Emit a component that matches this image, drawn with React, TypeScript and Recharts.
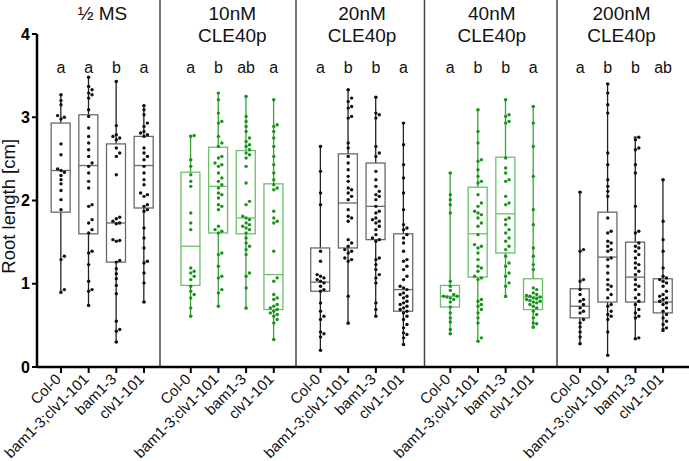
import { ComposedChart, Bar, Scatter, XAxis, YAxis, ReferenceLine, ReferenceDot } from "recharts"

const treatments = [["½ MS"], ["10nM", "CLE40p"], ["20nM", "CLE40p"], ["40nM", "CLE40p"], ["200nM", "CLE40p"]]
const greenTreatment = [false, true, false, true, false]
const genotypes = ["Col-0", "bam1-3;clv1-101", "bam1-3", "clv1-101"]

const letters = [
  ["a", "a", "b", "a"],
  ["a", "b", "ab", "a"],
  ["a", "b", "b", "a"],
  ["a", "b", "b", "a"],
  ["a", "b", "b", "ab"],
]

// box plot statistics [treatment][genotype]
const mins = [
  [0.89, 0.74, 0.3, 0.78],
  [0.61, 0.73, 0.7, 0.33],
  [0.2, 0.52, 0.61, 0.27],
  [0.4, 0.31, 0.84, 0.47],
  [0.28, 0.14, 0.34, 0.43],
]
const q1s = [
  [1.86, 1.6, 1.26, 1.91],
  [0.98, 1.61, 1.6, 0.69],
  [0.91, 1.43, 1.53, 0.67],
  [0.72, 1.08, 1.37, 0.69],
  [0.59, 0.78, 0.78, 0.65],
]
const medians = [
  [2.36, 2.42, 1.73, 2.42],
  [1.45, 2.17, 1.79, 1.11],
  [1.02, 1.97, 1.93, 0.93],
  [0.85, 1.6, 1.84, 0.84],
  [0.73, 1.32, 1.08, 0.78],
]
const q3s = [
  [2.93, 3.03, 2.68, 2.77],
  [2.34, 2.64, 2.6, 2.2],
  [1.43, 2.56, 2.45, 1.6],
  [0.98, 2.16, 2.52, 1.06],
  [0.94, 1.86, 1.5, 1.06],
]
const maxs = [
  [3.27, 3.48, 3.43, 3.14],
  [2.78, 3.29, 3.25, 3.21],
  [2.65, 3.33, 3.24, 2.93],
  [2.33, 3.09, 3.21, 3.13],
  [2.1, 3.4, 2.76, 2.25],
]

// individual roots [treatment][genotype]
const roots = [
  [
    [3.27, 3.2, 3.15, 3.02, 3.0, 2.98, 2.68, 2.55, 2.38, 2.36, 2.34, 2.3, 2.25, 2.2, 2.12, 2.01, 1.89, 1.33, 1.29, 0.93, 0.9],
    [3.48, 3.37, 3.33, 3.29, 3.27, 3.23, 3.09, 3.01, 2.87, 2.77, 2.69, 2.61, 2.53, 2.45, 2.41, 2.33, 2.23, 2.15, 1.95, 1.93, 1.77, 1.73, 1.65, 1.61, 1.39, 1.37, 1.23, 1.03, 0.93, 0.91, 0.74],
    [3.43, 2.9, 2.79, 2.77, 2.75, 2.73, 2.63, 2.57, 2.53, 2.31, 1.8, 1.78, 1.75, 1.73, 1.72, 1.53, 1.52, 1.51, 1.28, 1.26, 1.18, 1.12, 1.06, 0.98, 0.88, 0.55, 0.45, 0.43, 0.3],
    [3.14, 3.09, 3.03, 2.93, 2.89, 2.83, 2.81, 2.79, 2.77, 2.63, 2.57, 2.53, 2.49, 2.41, 2.33, 2.25, 2.19, 2.09, 2.07, 2.05, 1.95, 1.93, 1.89, 1.87, 1.67, 1.55, 1.43, 1.27, 1.25, 1.13, 1.01, 0.78],
  ],
  [
    [2.78, 2.77, 2.49, 2.41, 2.31, 2.23, 2.17, 1.85, 1.73, 1.65, 1.19, 1.15, 1.13, 1.09, 1.05, 0.97, 0.91, 0.87, 0.83, 0.71, 0.61],
    [3.29, 3.21, 3.05, 2.95, 2.93, 2.77, 2.69, 2.65, 2.53, 2.51, 2.45, 2.43, 2.41, 2.33, 2.27, 2.23, 2.19, 2.15, 2.09, 2.07, 2.03, 1.95, 1.93, 1.89, 1.69, 1.65, 1.63, 1.61, 1.37, 1.35, 1.21, 1.09, 1.07, 0.93, 0.89, 0.73],
    [3.25, 3.01, 2.95, 2.89, 2.83, 2.75, 2.71, 2.67, 2.65, 2.61, 2.57, 2.55, 2.51, 2.41, 2.21, 1.99, 1.95, 1.81, 1.79, 1.77, 1.73, 1.71, 1.69, 1.67, 1.65, 1.61, 1.55, 1.49, 1.45, 1.41, 1.35, 1.13, 1.09, 0.95, 0.71],
    [3.21, 2.91, 2.89, 2.83, 2.75, 2.65, 2.53, 2.43, 2.33, 2.25, 2.19, 2.15, 2.13, 1.87, 1.79, 1.75, 1.73, 1.39, 1.07, 1.03, 0.87, 0.83, 0.81, 0.75, 0.73, 0.71, 0.69, 0.67, 0.65, 0.63, 0.61, 0.57, 0.53, 0.33],
  ],
  [
    [2.65, 2.35, 2.09, 1.95, 1.39, 1.27, 1.11, 1.09, 1.07, 1.05, 1.03, 1.01, 0.97, 0.93, 0.91, 0.77, 0.67, 0.61, 0.57, 0.42, 0.4, 0.36, 0.2],
    [3.33, 3.23, 3.19, 3.13, 3.11, 3.01, 2.99, 2.69, 2.63, 2.53, 2.45, 2.37, 2.29, 2.23, 2.15, 2.13, 2.09, 2.05, 2.01, 1.89, 1.81, 1.79, 1.75, 1.53, 1.49, 1.45, 1.41, 1.39, 1.37, 1.31, 1.29, 1.27, 0.85, 0.53],
    [3.24, 3.05, 3.03, 2.99, 2.65, 2.57, 2.53, 2.35, 2.25, 2.17, 2.11, 2.07, 2.05, 2.01, 1.93, 1.87, 1.85, 1.79, 1.77, 1.75, 1.73, 1.69, 1.65, 1.59, 1.55, 1.53, 1.51, 1.31, 1.29, 1.23, 1.17, 1.11, 1.07, 1.01, 0.77, 0.69, 0.61],
    [2.93, 2.67, 2.43, 2.27, 2.09, 1.89, 1.71, 1.67, 1.65, 1.59, 1.55, 1.49, 1.39, 1.29, 1.27, 1.21, 1.17, 1.09, 1.05, 0.97, 0.95, 0.93, 0.89, 0.87, 0.85, 0.83, 0.79, 0.77, 0.75, 0.73, 0.71, 0.69, 0.67, 0.65, 0.61, 0.57, 0.51, 0.47, 0.41, 0.39, 0.35, 0.27],
  ],
  [
    [2.33, 2.07, 2.01, 1.95, 1.85, 1.03, 0.97, 0.92, 0.87, 0.85, 0.85, 0.84, 0.83, 0.81, 0.78, 0.72, 0.65, 0.59, 0.54, 0.45, 0.4],
    [3.09, 2.83, 2.69, 2.49, 2.47, 2.37, 2.29, 2.23, 2.21, 2.07, 1.97, 1.93, 1.87, 1.85, 1.83, 1.79, 1.73, 1.69, 1.59, 1.47, 1.45, 1.43, 1.37, 1.29, 1.21, 1.19, 1.15, 1.09, 1.07, 1.05, 0.81, 0.79, 0.75, 0.73, 0.69, 0.65, 0.59, 0.53, 0.35, 0.31],
    [3.21, 3.03, 3.01, 2.95, 2.93, 2.51, 2.39, 2.33, 2.25, 2.23, 2.05, 1.97, 1.95, 1.79, 1.77, 1.71, 1.65, 1.61, 1.55, 1.51, 1.45, 1.41, 1.33, 1.25, 1.21, 1.13, 1.09, 1.01, 0.97, 0.85],
    [3.13, 2.93, 2.65, 2.29, 1.89, 1.71, 1.43, 1.33, 1.23, 1.17, 0.95, 0.93, 0.89, 0.87, 0.86, 0.85, 0.84, 0.83, 0.82, 0.81, 0.8, 0.79, 0.78, 0.77, 0.75, 0.73, 0.71, 0.67, 0.63, 0.59, 0.53, 0.52, 0.48],
  ],
  [
    [2.1, 1.41, 1.39, 1.05, 1.03, 0.93, 0.87, 0.81, 0.79, 0.75, 0.71, 0.67, 0.65, 0.57, 0.53, 0.48, 0.42, 0.36, 0.28],
    [3.4, 3.29, 3.15, 3.05, 2.57, 2.43, 2.25, 2.17, 2.11, 2.05, 1.79, 1.63, 1.61, 1.51, 1.49, 1.45, 1.41, 1.39, 1.31, 1.29, 1.21, 1.13, 1.05, 0.99, 0.97, 0.93, 0.87, 0.83, 0.75, 0.73, 0.67, 0.63, 0.61, 0.57, 0.42, 0.14],
    [2.76, 2.73, 2.63, 2.61, 2.43, 2.33, 1.93, 1.63, 1.61, 1.49, 1.45, 1.43, 1.39, 1.35, 1.31, 1.25, 1.23, 1.19, 1.15, 1.11, 1.05, 0.99, 0.97, 0.93, 0.87, 0.83, 0.79, 0.75, 0.69, 0.65, 0.61, 0.59, 0.35, 0.34],
    [2.25, 1.75, 1.53, 1.39, 1.19, 1.09, 1.07, 1.05, 1.03, 1.01, 0.97, 0.91, 0.87, 0.85, 0.83, 0.81, 0.79, 0.77, 0.75, 0.71, 0.67, 0.63, 0.59, 0.55, 0.51, 0.47, 0.45],
  ],
]

// layout on the numeric x axis (1 unit = spacing between genotypes)
const GROUP = 4.69
const X_DOMAIN: [number, number] = [-0.867, 22.696]
const dividers = [3.578, 8.493, 13.137, 17.926]
const PX_X = 27.67
const PX_Y = 83.25
const DOT = 3.4

const GREEN_BOX = "#6cbf6c"
const GREEN_WHISKER = "#37a337"
const GREEN_DOT = "#179417"

const rows = treatments.flatMap((_, g) =>
  genotypes.map((name, i) => ({
    x: g * GROUP + i,
    name,
    green: greenTreatment[g],
    whisker: [mins[g][i], maxs[g][i]],
    box: [q1s[g][i], q3s[g][i]],
    median: medians[g][i],
    letter: letters[g][i],
    top: 3.53,
  }))
)

// simple beeswarm so the dots don't sit on top of each other
function swarm(vals: number[]) {
  const placed: { x: number; y: number }[] = []
  const out: number[] = new Array(vals.length).fill(0)
  const order = vals.map((v, i) => ({ v, i })).sort((a, b) => a.v - b.v)
  const cands = [0, 1, -1, 2, -2, 3, -3, 4, -4]
  for (const { v, i } of order) {
    const y = v * PX_Y
    let x = 0
    for (const c of cands) {
      x = c * DOT
      if (placed.every((p) => Math.hypot(p.x - x, p.y - y) >= DOT)) break
    }
    placed.push({ x, y })
    out[i] = x / PX_X
  }
  return out
}

const dots = treatments.flatMap((_, g) =>
  genotypes.flatMap((_, i) => {
    const vals = roots[g][i]
    const offs = swarm(vals)
    return vals.map((v, k) => ({ x: g * GROUP + i + offs[k], v, green: greenTreatment[g] }))
  })
)

function WhiskerShape(props: any) {
  const { x, y, width, height, payload } = props
  const c = x + width / 2
  const col = payload.green ? GREEN_WHISKER : "#222"
  return (
    <g stroke={col} strokeWidth={1.3}>
      <line x1={c} x2={c} y1={y} y2={y + height} />
      <line x1={x} x2={x + width} y1={y} y2={y} strokeWidth={1.6} />
      <line x1={x} x2={x + width} y1={y + height} y2={y + height} strokeWidth={1.6} />
    </g>
  )
}

function BoxShape(props: any) {
  const { x, y, width, height, payload } = props
  return (
    <rect x={x} y={y} width={width} height={height} fill="#fff"
      stroke={payload.green ? GREEN_BOX : "#6a6a6a"} strokeWidth={1.3} />
  )
}

function MedianShape(props: any) {
  const { cx, cy, payload } = props
  return <line x1={cx - 9.5} x2={cx + 9.5} y1={cy} y2={cy} stroke={payload.green ? GREEN_BOX : "#6a6a6a"} strokeWidth={1.3} />
}

function DotShape(props: any) {
  const { cx, cy, payload } = props
  return <circle cx={cx} cy={cy} r={1.7} fill={payload.green ? GREEN_DOT : "#111"} />
}

function LetterShape(props: any) {
  const { cx, cy, payload } = props
  return <text x={cx} y={cy} textAnchor="middle" fontSize={16} fill="#111">{payload.letter}</text>
}

function GenotypeTick(props: any) {
  const { x, y, payload } = props
  const row = rows.find((r) => Math.abs(r.x - payload.value) < 1e-6)
  const tx = x + 1
  const ty = y + 5
  return (
    <text x={tx} y={ty} transform={`rotate(-45 ${tx} ${ty})`} textAnchor="end" fontSize={15} fill="#111">
      {row ? row.name : ""}
    </text>
  )
}

export default function App() {
  return (
    <div style={{ position: "absolute", left: 0, top: 0, fontFamily: '"Liberation Sans", Arial, sans-serif', background: "#fff" }}>
      <ComposedChart width={689} height={461} data={rows} margin={{ top: 34, right: 0, bottom: 0, left: 0 }}>
        <XAxis xAxisId="main" type="number" dataKey="x" domain={X_DOMAIN} allowDataOverflow
          ticks={rows.map((r) => r.x)} interval={0} height={94} tickSize={6}
          axisLine={{ stroke: "#000", strokeWidth: 2.5 }} tickLine={{ stroke: "#000", strokeWidth: 2 }}
          tick={<GenotypeTick />} />
        <XAxis xAxisId="box" type="number" dataKey="x" domain={X_DOMAIN} allowDataOverflow hide orientation="top" height={0} />
        <YAxis type="number" domain={[0, 4]} ticks={[0, 1, 2, 3, 4]} allowDataOverflow width={37} tickSize={5}
          axisLine={{ stroke: "#000", strokeWidth: 2.5 }} tickLine={{ stroke: "#000", strokeWidth: 2 }}
          tick={{ fill: "#000", fontSize: 16, fontWeight: "bold" }} />

        {dividers.map((d) => (
          <ReferenceLine key={d} xAxisId="main" segment={[{ x: d, y: 0 }, { x: d, y: 4.41 }]} ifOverflow="visible" stroke="#444" strokeWidth={1.5} />
        ))}

        <Bar xAxisId="main" dataKey="whisker" barSize={9} shape={<WhiskerShape />} isAnimationActive={false} />
        <Bar xAxisId="box" dataKey="box" barSize={19} shape={<BoxShape />} isAnimationActive={false} />
        <Scatter xAxisId="main" data={rows} dataKey="median" shape={<MedianShape />} isAnimationActive={false} />
        <Scatter xAxisId="main" data={dots} dataKey="v" shape={<DotShape />} isAnimationActive={false} />
        <Scatter xAxisId="main" data={rows} dataKey="top" shape={<LetterShape />} isAnimationActive={false} />

        {treatments.map((lines, g) => (
          <ReferenceDot key={g} xAxisId="main" x={g * GROUP + 1.5} y={4.168} r={0} ifOverflow="visible"
            shape={(p: any) => (
              <text x={p.cx} y={p.cy} textAnchor="middle" fontSize={19} fill="#111">
                {lines.map((l, k) => (
                  <tspan key={k} x={p.cx} dy={k ? 22 : 0}>{l}</tspan>
                ))}
              </text>
            )} />
        ))}

        <ReferenceDot xAxisId="main" x={X_DOMAIN[0] - 0.777} y={1.93} r={0} ifOverflow="visible"
          shape={(p: any) => (
            <text x={p.cx} y={p.cy} transform={`rotate(-90 ${p.cx} ${p.cy})`} textAnchor="middle" fontSize={18.5} fill="#111">
              Root length [cm]
            </text>
          )} />
      </ComposedChart>
    </div>
  )
}
